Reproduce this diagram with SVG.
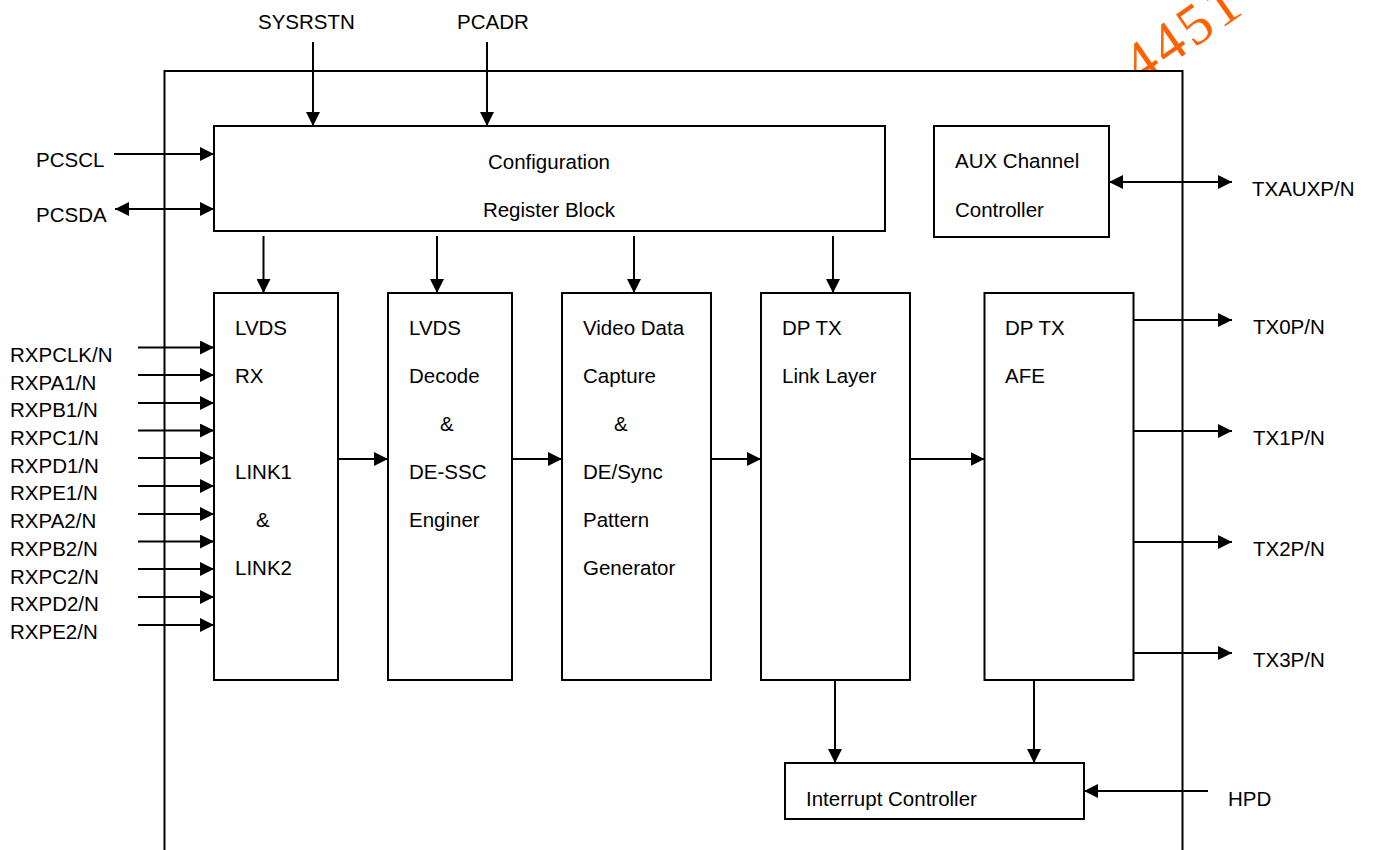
<svg xmlns="http://www.w3.org/2000/svg" width="1373" height="850" viewBox="0 0 1373 850">
<style>
text{font-family:"Liberation Sans",Arial,sans-serif;font-size:20.5px;fill:#000}
.box{fill:#fff;stroke:#000;stroke-width:2}
.ln{stroke:#000;stroke-width:2;fill:none;marker-end:url(#arr)}
.bi{stroke:#000;stroke-width:2;fill:none;marker-end:url(#arr);marker-start:url(#arr)}
.wm{font-family:"Liberation Serif","Times New Roman",serif;font-size:58px;fill:#ff6000;letter-spacing:4px}
</style>
<defs>
<marker id="arr" viewBox="0 0 14 14" refX="14" refY="7" markerWidth="14" markerHeight="14" markerUnits="userSpaceOnUse" orient="auto-start-reverse">
<path d="M0,0 L14,7 L0,14 z" fill="#000"/>
</marker>
</defs>
<rect width="1373" height="850" fill="#fff"/>
<text class="wm" x="1140" y="86" transform="rotate(-35 1140 86)">4451</text>
<g id="chip"><rect class="box" x="164.5" y="71" width="1018" height="800"/></g>

<g id="config"><rect class="box" x="214" y="126" width="671" height="105"/>
<text x="549" y="169" text-anchor="middle">Configuration</text>
<text x="549" y="217" text-anchor="middle">Register Block</text></g>

<g id="aux"><rect class="box" x="934" y="126" width="175" height="111"/>
<text x="955" y="168">AUX Channel</text>
<text x="955" y="217">Controller</text></g>

<g id="lvdsrx"><rect class="box" x="214" y="293" width="124" height="387"/>
<text x="235" y="335">LVDS</text><text x="235" y="383">RX</text>
<text x="235" y="479">LINK1</text><text x="256" y="527">&amp;</text><text x="235" y="575">LINK2</text></g>

<g id="decode"><rect class="box" x="388" y="293" width="124" height="387"/>
<text x="409" y="335">LVDS</text><text x="409" y="383">Decode</text>
<text x="440" y="431">&amp;</text><text x="409" y="479">DE-SSC</text><text x="409" y="527">Enginer</text></g>

<g id="capture"><rect class="box" x="562" y="293" width="149" height="387"/>
<text x="583" y="335">Video Data</text><text x="583" y="383">Capture</text>
<text x="614" y="431">&amp;</text><text x="583" y="479">DE/Sync</text>
<text x="583" y="527">Pattern</text><text x="583" y="575">Generator</text></g>

<g id="link"><rect class="box" x="761" y="293" width="149" height="387"/>
<text x="782" y="335">DP TX</text><text x="782" y="383">Link Layer</text></g>

<g id="afe"><rect class="box" x="984.5" y="293" width="149" height="387"/>
<text x="1005" y="335">DP TX</text><text x="1005" y="383">AFE</text></g>

<g id="intc"><rect class="box" x="785" y="763" width="299" height="56"/>
<text x="806" y="806">Interrupt Controller</text></g>

<g id="labels">
<text x="258" y="29">SYSRSTN</text><text x="457" y="29">PCADR</text>
<text x="36" y="167">PCSCL</text><text x="36" y="222">PCSDA</text>
<text x="10" y="362">RXPCLK/N</text><text x="10" y="390">RXPA1/N</text>
<text x="10" y="417">RXPB1/N</text><text x="10" y="445">RXPC1/N</text>
<text x="10" y="473">RXPD1/N</text><text x="10" y="500">RXPE1/N</text>
<text x="10" y="528">RXPA2/N</text><text x="10" y="556">RXPB2/N</text>
<text x="10" y="584">RXPC2/N</text><text x="10" y="611">RXPD2/N</text>
<text x="10" y="639">RXPE2/N</text>
<text x="1252" y="196">TXAUXP/N</text>
<text x="1253" y="334">TX0P/N</text><text x="1253" y="445">TX1P/N</text>
<text x="1253" y="556">TX2P/N</text><text x="1253" y="667">TX3P/N</text>
<text x="1228" y="806">HPD</text>
</g>

<g id="connectors">
<line class="ln" x1="313" y1="42" x2="313" y2="126"/>
<line class="ln" x1="487" y1="42" x2="487" y2="126"/>
<line class="ln" x1="114" y1="154" x2="214" y2="154"/>
<line class="bi" x1="115" y1="209" x2="214" y2="209"/>
<line class="bi" x1="1109" y1="182" x2="1232" y2="182"/>
<line class="ln" x1="263.5" y1="236" x2="263.5" y2="293"/>
<line class="ln" x1="437" y1="236" x2="437" y2="293"/>
<line class="ln" x1="634" y1="236" x2="634" y2="293"/>
<line class="ln" x1="833" y1="236" x2="833" y2="293"/>
<line class="ln" x1="138" y1="347.5" x2="214" y2="347.5"/>
<line class="ln" x1="138" y1="375" x2="214" y2="375"/>
<line class="ln" x1="138" y1="403" x2="214" y2="403"/>
<line class="ln" x1="138" y1="430.5" x2="214" y2="430.5"/>
<line class="ln" x1="138" y1="458" x2="214" y2="458"/>
<line class="ln" x1="138" y1="486" x2="214" y2="486"/>
<line class="ln" x1="138" y1="514" x2="214" y2="514"/>
<line class="ln" x1="138" y1="541.5" x2="214" y2="541.5"/>
<line class="ln" x1="138" y1="569" x2="214" y2="569"/>
<line class="ln" x1="138" y1="597" x2="214" y2="597"/>
<line class="ln" x1="138" y1="625" x2="214" y2="625"/>
<line class="ln" x1="338" y1="459" x2="388" y2="459"/>
<line class="ln" x1="512" y1="459" x2="562" y2="459"/>
<line class="ln" x1="711" y1="459" x2="761" y2="459"/>
<line class="ln" x1="910" y1="459" x2="984.5" y2="459"/>
<line class="ln" x1="1133.5" y1="320" x2="1232" y2="320"/>
<line class="ln" x1="1133.5" y1="431" x2="1232" y2="431"/>
<line class="ln" x1="1133.5" y1="542" x2="1232" y2="542"/>
<line class="ln" x1="1133.5" y1="653" x2="1232" y2="653"/>
<line class="ln" x1="835" y1="680" x2="835" y2="763"/>
<line class="ln" x1="1034" y1="680" x2="1034" y2="763"/>
<line class="ln" x1="1208" y1="791" x2="1084" y2="791"/>
</g>
</svg>
